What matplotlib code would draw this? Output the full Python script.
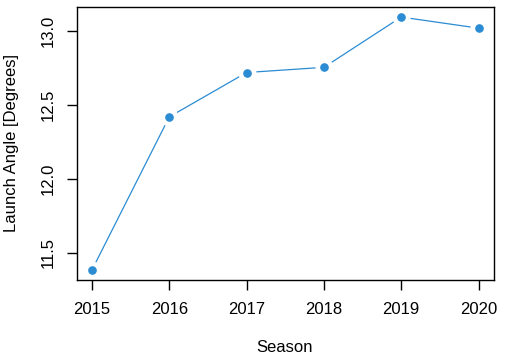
import matplotlib
matplotlib.use("Agg")
import matplotlib.pyplot as plt

seasons = [2015, 2016, 2017, 2018, 2019, 2020]
launch_angle = [11.385, 12.42, 12.72, 12.755, 13.095, 13.02]

plt.rcParams['font.family'] = ['Liberation Sans', 'DejaVu Sans']
COLOR = '#2b8cd3'
W, H = 517, 361

fig = plt.figure(figsize=(W / 100, H / 100), dpi=100)
ax = fig.add_axes([0.148, 0.2244, 0.8075, 0.7562])

ax.plot(seasons, launch_angle, color=COLOR, lw=0.9, zorder=1)
# white halo gives the gap around points like R's type="b"
ax.plot(seasons, launch_angle, 'o', color='white', markersize=12, zorder=2)
ax.plot(seasons, launch_angle, 'o', color=COLOR, markersize=5.2, zorder=3)

ax.set_xlim(2014.8, 2020.2)
ax.set_ylim(11.317, 13.163)
ax.set_xticks(seasons)
ax.set_yticks([11.5, 12.0, 12.5, 13.0])
ax.set_yticklabels(['11.5', '12.0', '12.5', '13.0'], rotation=90, va='center')
ax.tick_params(labelsize=12, length=7, width=1)
ax.tick_params(axis='x', pad=9)
ax.tick_params(axis='y', pad=8)
for s in ax.spines.values():
    s.set_linewidth(1)

# axis titles placed by pixel position like R's mtext
fig.text(285 / W, 1 - 348 / H, 'Season', fontsize=12, ha='center', va='center')
fig.text(12 / W, 1 - 143 / H, 'Launch Angle [Degrees]', fontsize=12,
         ha='center', va='center', rotation=90)

fig.savefig('out.png', dpi=100)
